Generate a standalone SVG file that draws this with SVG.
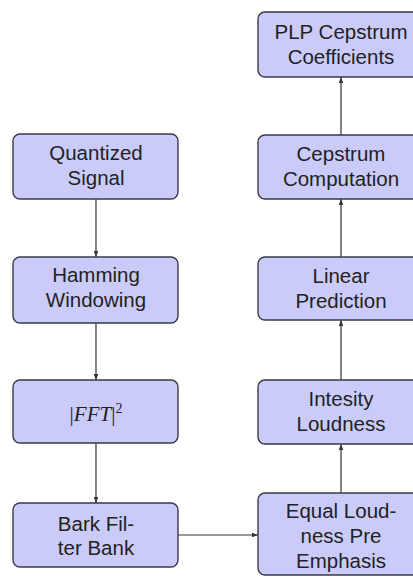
<svg xmlns="http://www.w3.org/2000/svg" width="413" height="577" viewBox="0 0 413 577">
<style>
.box{fill:#cbcbfa;stroke:#3a3a48;stroke-width:1.4}
.t{font-family:"Liberation Sans",Arial,sans-serif;font-size:20.5px;fill:#222;text-anchor:middle}
.m{font-family:"Liberation Serif","Times New Roman",serif;font-size:21px;fill:#222;text-anchor:middle}
.c{fill:none;stroke:#333;stroke-width:1.2;marker-end:url(#ah)}
</style>
<defs>
<marker id="ah" viewBox="0 0 8 6" refX="8" refY="3" markerWidth="6" markerHeight="4.5" orient="auto" markerUnits="userSpaceOnUse">
<path d="M0,0 L8,3 L0,6 Z" fill="#333"/>
</marker>
</defs>
<rect width="413" height="577" fill="#fff"/>
<g id="connectors">
<line class="c" x1="96" y1="199" x2="96" y2="257"/>
<line class="c" x1="96" y1="323" x2="96" y2="380"/>
<line class="c" x1="96" y1="443" x2="96" y2="503"/>
<line class="c" x1="178" y1="535" x2="258" y2="535"/>
<line class="c" x1="341" y1="493" x2="341" y2="444"/>
<line class="c" x1="341" y1="380" x2="341" y2="320"/>
<line class="c" x1="341" y1="257" x2="341" y2="199"/>
<line class="c" x1="341" y1="135" x2="341" y2="77"/>
</g>
<g id="quantized">
<rect class="box" x="13" y="134" width="165" height="65" rx="7"/>
<text class="t" x="96" y="160">Quantized</text>
<text class="t" x="96" y="185">Signal</text>
</g>
<g id="hamming">
<rect class="box" x="13" y="257" width="165" height="66" rx="7"/>
<text class="t" x="96" y="282">Hamming</text>
<text class="t" x="96" y="307">Windowing</text>
</g>
<g id="fft">
<rect class="box" x="13" y="380" width="165" height="63" rx="7"/>
<text class="m" x="96" y="421">|<tspan font-style="italic">FFT</tspan>|<tspan font-size="14" dy="-8">2</tspan></text>
</g>
<g id="bark">
<rect class="box" x="13" y="503" width="165" height="64" rx="7"/>
<text class="t" x="96" y="531">Bark Fil-</text>
<text class="t" x="96" y="555">ter Bank</text>
</g>
<g id="plp">
<rect class="box" x="258" y="12" width="166" height="65" rx="7"/>
<text class="t" x="341" y="39">PLP Cepstrum</text>
<text class="t" x="341" y="64">Coefficients</text>
</g>
<g id="cepstrum">
<rect class="box" x="258" y="135" width="166" height="64" rx="7"/>
<text class="t" x="341" y="161">Cepstrum</text>
<text class="t" x="341" y="186">Computation</text>
</g>
<g id="linear">
<rect class="box" x="258" y="257" width="166" height="63" rx="7"/>
<text class="t" x="341" y="283">Linear</text>
<text class="t" x="341" y="308">Prediction</text>
</g>
<g id="intesity">
<rect class="box" x="258" y="380" width="166" height="64" rx="7"/>
<text class="t" x="341" y="406">Intesity</text>
<text class="t" x="341" y="431">Loudness</text>
</g>
<g id="equal">
<rect class="box" x="258" y="493" width="166" height="82" rx="7"/>
<text class="t" x="341" y="518">Equal Loud-</text>
<text class="t" x="341" y="543">ness Pre</text>
<text class="t" x="341" y="568">Emphasis</text>
</g>
</svg>
